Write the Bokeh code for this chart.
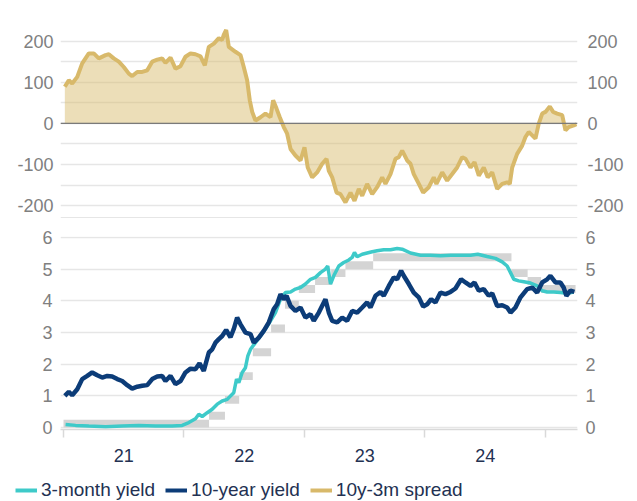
from bokeh.plotting import figure
from bokeh.models import Range1d, FixedTicker, LinearAxis, Span, Legend, LegendItem
from bokeh.layouts import column
from bokeh.embed import file_html
from bokeh.resources import INLINE

# ---------------- data (x in decimal years) ----------------
spread_t = [2021.011, 2021.044, 2021.072, 2021.114, 2021.155, 2021.210, 2021.251, 2021.293,
            2021.349, 2021.376, 2021.417, 2021.459, 2021.500, 2021.542, 2021.570, 2021.612,
            2021.653, 2021.695, 2021.736, 2021.778, 2021.819, 2021.846, 2021.888, 2021.929,
            2021.971, 2022.012, 2022.054, 2022.095, 2022.137, 2022.173, 2022.206, 2022.248,
            2022.289, 2022.317, 2022.330, 2022.350, 2022.372, 2022.427, 2022.469, 2022.496,
            2022.524, 2022.546, 2022.566, 2022.593, 2022.635, 2022.676, 2022.718, 2022.740,
            2022.768, 2022.795, 2022.828, 2022.856, 2022.884, 2022.925, 2022.967, 2023.000,
            2023.027, 2023.064, 2023.105, 2023.147, 2023.183, 2023.202, 2023.230, 2023.266,
            2023.299, 2023.340, 2023.382, 2023.415, 2023.451, 2023.479, 2023.520, 2023.562,
            2023.603, 2023.645, 2023.672, 2023.714, 2023.755, 2023.783, 2023.811, 2023.852,
            2023.880, 2023.907, 2023.949, 2023.985, 2024.032, 2024.073, 2024.095, 2024.143,
            2024.184, 2024.226, 2024.267, 2024.309, 2024.336, 2024.378, 2024.411, 2024.447,
            2024.488, 2024.521, 2024.558, 2024.599, 2024.641, 2024.682, 2024.704, 2024.724,
            2024.765, 2024.807, 2024.834, 2024.861, 2024.890, 2024.917, 2024.944, 2024.973,
            2025.000, 2025.036, 2025.064, 2025.097, 2025.139, 2025.166, 2025.193, 2025.235,
            2025.257]
spread_bp = [89, 105, 97, 113, 146, 170, 170, 158,
             166, 168, 158, 150, 137, 121, 115, 125,
             125, 129, 150, 155, 158, 147, 160, 133,
             139, 162, 170, 168, 163, 141, 186, 194,
             207, 203, 215, 227, 186, 174, 166, 137,
             105, 56, 28, 7, 15, 24, 15, 56,
             36, 15, -9, -25, -62, -78, -90, -58,
             -107, -131, -119, -98, -86, -115, -131, -168,
             -172, -192, -168, -188, -159, -176, -147, -172,
             -155, -131, -147, -123, -86, -82, -66, -90,
             -98, -123, -147, -168, -155, -131, -147, -119,
             -139, -123, -107, -82, -86, -107, -94, -127,
             -107, -131, -119, -159, -147, -143, -147, -107,
             -74, -54, -33, -21, -29, -37, -1, 24,
             28, 41, 28, 24, 20, -17, -9, -5,
             -2]

y10_t = [2021.011, 2021.044, 2021.072, 2021.114, 2021.155, 2021.197, 2021.238, 2021.280,
         2021.321, 2021.363, 2021.404, 2021.446, 2021.487, 2021.529, 2021.570, 2021.612,
         2021.653, 2021.695, 2021.736, 2021.778, 2021.819, 2021.846, 2021.888, 2021.929,
         2021.971, 2022.012, 2022.054, 2022.095, 2022.129, 2022.164, 2022.206, 2022.234,
         2022.261, 2022.289, 2022.317, 2022.350, 2022.386, 2022.413, 2022.441, 2022.469,
         2022.510, 2022.552, 2022.579, 2022.621, 2022.662, 2022.704, 2022.745, 2022.773,
         2022.801, 2022.828, 2022.851, 2022.884, 2022.925, 2022.967, 2023.008, 2023.050,
         2023.077, 2023.119, 2023.174, 2023.202, 2023.230, 2023.271, 2023.313, 2023.354,
         2023.396, 2023.437, 2023.479, 2023.520, 2023.548, 2023.589, 2023.631, 2023.658,
         2023.700, 2023.741, 2023.769, 2023.802, 2023.824, 2023.866, 2023.907, 2023.949,
         2023.985, 2024.018, 2024.051, 2024.087, 2024.129, 2024.170, 2024.212, 2024.253,
         2024.300, 2024.336, 2024.378, 2024.411, 2024.447, 2024.488, 2024.529, 2024.558,
         2024.599, 2024.641, 2024.682, 2024.710, 2024.751, 2024.793, 2024.848, 2024.890,
         2024.931, 2024.973, 2025.014, 2025.041, 2025.083, 2025.124, 2025.151, 2025.174,
         2025.207, 2025.240]
y10 = [1.00, 1.13, 1.02, 1.21, 1.53, 1.63, 1.74, 1.65,
       1.58, 1.63, 1.61, 1.53, 1.47, 1.34, 1.23, 1.29,
       1.32, 1.34, 1.53, 1.61, 1.63, 1.47, 1.63, 1.37,
       1.47, 1.74, 1.86, 1.84, 2.03, 1.79, 2.37, 2.47,
       2.68, 2.79, 2.89, 3.08, 2.85, 3.11, 3.47, 3.26,
       3.00, 2.95, 2.68, 2.84, 3.05, 3.32, 3.74, 3.89,
       4.21, 4.05, 4.16, 3.84, 3.68, 3.79, 3.47, 3.58,
       3.37, 3.63, 4.05, 3.63, 3.37, 3.32, 3.47, 3.37,
       3.68, 3.63, 3.79, 3.95, 3.79, 4.16, 4.28, 4.16,
       4.47, 4.74, 4.68, 4.95, 4.79, 4.53, 4.26, 4.11,
       3.82, 3.89, 4.05, 3.95, 4.26, 4.21, 4.28, 4.39,
       4.68, 4.58, 4.47, 4.58, 4.32, 4.37, 4.16, 4.24,
       3.84, 3.86, 3.79, 3.63, 3.79, 4.11, 4.37, 4.42,
       4.26, 4.58, 4.68, 4.79, 4.58, 4.58, 4.42, 4.16,
       4.32, 4.28]

m3_t = [2021.017, 2021.100, 2021.210, 2021.349, 2021.487, 2021.625, 2021.763, 2021.902,
        2021.985, 2022.040, 2022.095, 2022.123, 2022.151, 2022.193, 2022.234, 2022.276,
        2022.317, 2022.359, 2022.386, 2022.413, 2022.436, 2022.455, 2022.483, 2022.510,
        2022.530, 2022.552, 2022.593, 2022.635, 2022.676, 2022.718, 2022.759, 2022.801,
        2022.842, 2022.884, 2022.925, 2022.967, 2023.008, 2023.050, 2023.091, 2023.133,
        2023.174, 2023.193, 2023.216, 2023.243, 2023.285, 2023.326, 2023.368, 2023.396,
        2023.415, 2023.437, 2023.479, 2023.520, 2023.562, 2023.603, 2023.658, 2023.714,
        2023.769, 2023.811, 2023.880, 2023.963, 2024.046, 2024.129, 2024.212, 2024.295,
        2024.378, 2024.438, 2024.516, 2024.585, 2024.641, 2024.682, 2024.710, 2024.737,
        2024.778, 2024.820, 2024.876, 2024.931, 2024.973, 2025.014, 2025.069, 2025.124,
        2025.180, 2025.235]
m3 = [0.10, 0.07, 0.05, 0.03, 0.05, 0.07, 0.05, 0.05,
      0.07, 0.16, 0.28, 0.42, 0.35, 0.47, 0.58, 0.74,
      0.84, 0.89, 1.00, 1.10, 1.53, 1.42, 1.74, 1.89,
      2.26, 2.47, 2.68, 2.89, 3.11, 3.37, 3.63, 4.05,
      4.26, 4.28, 4.37, 4.42, 4.53, 4.68, 4.74, 4.89,
      5.00, 5.10, 4.53, 4.79, 5.10, 5.21, 5.29, 5.37,
      5.53, 5.39, 5.47, 5.51, 5.55, 5.58, 5.61, 5.61,
      5.65, 5.63, 5.51, 5.44, 5.44, 5.42, 5.44, 5.44,
      5.44, 5.47, 5.40, 5.34, 5.23, 5.10, 4.89, 4.68,
      4.63, 4.60, 4.56, 4.47, 4.32, 4.28, 4.28, 4.26,
      4.24, 4.28]

# policy-rate target range (grey band)
ff_start = [2021.000, 2022.208, 2022.340, 2022.458, 2022.571, 2022.723, 2022.838, 2022.953,
            2023.088, 2023.222, 2023.340, 2023.570, 2024.718, 2024.852, 2024.964]
ff_end = [2022.208, 2022.340, 2022.458, 2022.571, 2022.723, 2022.838, 2022.953, 2023.088,
          2023.222, 2023.340, 2023.570, 2024.718, 2024.852, 2024.964, 2025.250]
ff_low = [0.00, 0.25, 0.75, 1.50, 2.25, 3.00, 3.75, 4.25, 4.50, 4.75, 5.00, 5.25, 4.75, 4.50, 4.25]
ff_high = [0.25, 0.50, 1.00, 1.75, 2.50, 3.25, 4.00, 4.50, 4.75, 5.00, 5.25, 5.50, 5.00, 4.75, 4.50]

year_bounds = [2021, 2022, 2023, 2024, 2025]
year_label_pos = [2021.5, 2022.5, 2023.5, 2024.5]
year_labels = ["21", "22", "23", "24"]
spread_ticks = [-200, -100, 0, 100, 200]
spread_labels = ["-200", "-100", "0", "100", "200"]
spread_grid = [-200, -150, -100, -50, 0, 50, 100, 150, 200, 250]
yield_ticks = [0, 1, 2, 3, 4, 5, 6]
yield_labels = ["0", "1", "2", "3", "4", "5", "6"]
legend_labels = ["3-month yield", "10-year yield", "10y-3m spread"]

# ---------------- styling ----------------
FONT = "Liberation Sans"
FS = "18px"
GREY_TXT = "#808080"
NAVY_TXT = "#233152"
GRID = "#E6E6E6"
C3M = "#3ECAC9"
C10Y = "#0C3C78"
CSPR = "#D8B96A"
CBAND = "#D4D4D4"

X0, X1 = 2020.975, 2025.266


def style_yaxis(ax, ticks, labels, standoff):
    ax.ticker = FixedTicker(ticks=ticks)
    ax.major_label_overrides = {t: l for t, l in zip(ticks, labels)}
    ax.axis_line_color = None
    ax.major_tick_line_color = None
    ax.minor_tick_line_color = None
    ax.major_tick_out = 0
    ax.major_tick_in = 0
    ax.major_label_standoff = standoff
    ax.major_label_text_font = FONT
    ax.major_label_text_font_size = FS
    ax.major_label_text_color = GREY_TXT


# ---------------- top panel: spread ----------------
p1 = figure(frame_width=517, frame_height=198, min_border_left=60, min_border_right=52,
            min_border_top=20, min_border_bottom=0,
            x_range=Range1d(X0, X1), y_range=Range1d(-231, 250),
            x_axis_location=None, output_backend="svg", toolbar_location=None)
p1.outline_line_color = None
p1.xgrid.visible = False
p1.ygrid.ticker = FixedTicker(ticks=spread_grid)
p1.ygrid.grid_line_color = GRID
p1.ygrid.grid_line_width = 1.5
style_yaxis(p1.yaxis[0], spread_ticks, spread_labels, 7)
r_ax1 = LinearAxis()
style_yaxis(r_ax1, spread_ticks, spread_labels, 10)
p1.add_layout(r_ax1, "right")
p1.add_layout(Span(location=-229, dimension="width", line_color=GRID, line_width=1.5))

p1.varea(x=spread_t, y1=[0] * len(spread_t), y2=spread_bp, fill_color=CSPR, fill_alpha=0.48)
r_spr = p1.line(spread_t, spread_bp, line_color=CSPR, line_width=4)
p1.add_layout(Span(location=0, dimension="width", line_color="#7A7A7A", line_width=1.2))

# ---------------- bottom panel: yields ----------------
p2 = figure(frame_width=517, frame_height=193, min_border_left=60, min_border_right=52,
            min_border_top=18, min_border_bottom=42,
            x_range=p1.x_range, y_range=Range1d(-0.06, 6.03),
            output_backend="svg", toolbar_location=None)
p2.outline_line_color = None
p2.xgrid.visible = False
p2.ygrid.ticker = FixedTicker(ticks=yield_ticks)
p2.ygrid.grid_line_color = GRID
p2.ygrid.grid_line_width = 1.5
style_yaxis(p2.yaxis[0], yield_ticks, yield_labels, 8)
r_ax2 = LinearAxis()
style_yaxis(r_ax2, yield_ticks, yield_labels, 8)
p2.add_layout(r_ax2, "right")

xa = p2.xaxis[0]
xa.ticker = FixedTicker(ticks=year_label_pos, minor_ticks=year_bounds)
xa.major_label_overrides = {p: l for p, l in zip(year_label_pos, year_labels)}
xa.axis_line_color = "#D9D9D9"
xa.axis_line_width = 1.5
xa.major_tick_line_color = None
xa.major_tick_out = 8
xa.major_tick_in = 0
xa.minor_tick_line_color = "#D9D9D9"
xa.minor_tick_line_width = 1.5
xa.minor_tick_out = 8
xa.minor_tick_in = 0
xa.major_label_standoff = 11
xa.major_label_text_font = FONT
xa.major_label_text_font_size = FS
xa.major_label_text_color = NAVY_TXT

p2.quad(left=ff_start, right=ff_end, bottom=ff_low, top=ff_high,
        fill_color=CBAND, line_color=None)
r3 = p2.line(m3_t, m3, line_color=C3M, line_width=3.5)
r10 = p2.line(y10_t, y10, line_color=C10Y, line_width=4.5)

# ---------------- legend strip ----------------
p3 = figure(width=629, height=30, min_border=0, min_border_left=0, min_border_right=0,
            x_range=Range1d(0, 1), y_range=Range1d(0, 1),
            x_axis_location=None, y_axis_location=None,
            output_backend="svg", toolbar_location=None)
p3.outline_line_color = None
p3.grid.visible = False
nan = float("nan")
lg3 = p3.line(x=[nan], y=[nan], line_color=C3M, line_width=4)
lg10 = p3.line(x=[nan], y=[nan], line_color=C10Y, line_width=4)
lgs = p3.line(x=[nan], y=[nan], line_color=CSPR, line_width=4)
legend = Legend(items=[LegendItem(label=legend_labels[0], renderers=[lg3]),
                       LegendItem(label=legend_labels[1], renderers=[lg10]),
                       LegendItem(label=legend_labels[2], renderers=[lgs])],
                orientation="horizontal", location=(15, 0), padding=0, margin=0,
                spacing=10, glyph_width=22, glyph_height=20, label_standoff=4,
                label_text_font=FONT, label_text_font_size="19px", label_text_color=NAVY_TXT,
                border_line_color=None, background_fill_alpha=0)
p3.add_layout(legend)

layout = column(column(p1, p2, spacing=0), p3, spacing=0)
open("out.html", "w").write(file_html(layout, INLINE))
